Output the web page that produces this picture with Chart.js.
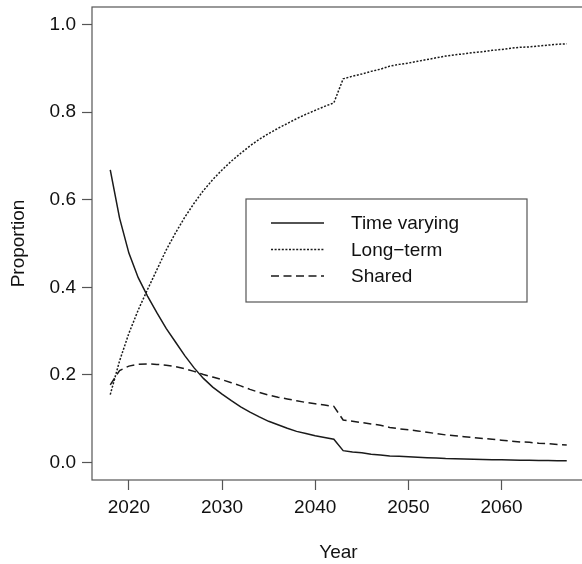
<!DOCTYPE html>
<html>
<head>
<meta charset="utf-8">
<script src="https://cdn.jsdelivr.net/npm/chart.js@4.4.1/dist/chart.umd.min.js"></script>
<style>
  html, body { margin: 0; padding: 0; background: #fff; overflow: hidden; }
  #wrap { width: 590px; height: 564px; }
</style>
</head>
<body>
<div id="wrap"><canvas id="c" width="590" height="564"></canvas></div>
<script>
// ---- data ----
const years = [];
for (let y = 2018; y <= 2067; y++) years.push(y);

const timeVarying = [
  0.668, 0.558, 0.478, 0.422, 0.380, 0.342, 0.306, 0.275, 0.244, 0.216,
  0.192, 0.172, 0.156, 0.141, 0.127, 0.115, 0.104, 0.094, 0.086, 0.078,
  0.071, 0.066, 0.061, 0.057, 0.053, 0.027, 0.024, 0.022, 0.019, 0.017,
  0.015, 0.014, 0.013, 0.012, 0.011, 0.010, 0.009, 0.0085, 0.008, 0.0075,
  0.007, 0.0065, 0.006, 0.0055, 0.005, 0.005, 0.0045, 0.0045, 0.004, 0.004
];
const longTerm = [
  0.155, 0.232, 0.295, 0.348, 0.395, 0.440, 0.485, 0.524, 0.560, 0.592,
  0.621, 0.646, 0.668, 0.688, 0.706, 0.723, 0.738, 0.751, 0.763, 0.774,
  0.785, 0.795, 0.804, 0.813, 0.821, 0.876, 0.882, 0.887, 0.893, 0.898,
  0.905, 0.909, 0.912, 0.916, 0.920, 0.924, 0.928, 0.931, 0.933, 0.936,
  0.938, 0.941, 0.943, 0.946, 0.948, 0.949, 0.951, 0.953, 0.955, 0.956
];
const shared = [
  0.177, 0.210, 0.220, 0.224, 0.225, 0.224, 0.222, 0.219, 0.214, 0.208,
  0.201, 0.195, 0.189, 0.182, 0.175, 0.167, 0.160, 0.154, 0.149, 0.145,
  0.141, 0.137, 0.134, 0.131, 0.128, 0.097, 0.094, 0.091, 0.088, 0.085,
  0.080, 0.077, 0.075, 0.072, 0.069, 0.066, 0.063, 0.061, 0.059, 0.057,
  0.055, 0.053, 0.051, 0.049, 0.047, 0.046, 0.044, 0.043, 0.041, 0.040
];
const seriesLabels = ['Time varying', 'Long\u2212term', 'Shared'];
const xTicks = [2020, 2030, 2040, 2050, 2060];
const yTicks = [0.0, 0.2, 0.4, 0.6, 0.8, 1.0];
const xTitle = 'Year';
const yTitle = 'Proportion';

// ---- styling ----
const FONT = "'Liberation Sans', Arial, Helvetica, sans-serif";
const INK = '#1a1a1a';
const FRAME = '#555';
const dashes = [[], [2, 1.6], [8, 4.5]];

function toXY(vals) { return vals.map((v, i) => ({ x: years[i], y: v })); }

const datasets = [timeVarying, longTerm, shared].map((vals, i) => ({
  label: seriesLabels[i],
  data: toXY(vals),
  borderColor: INK,
  borderWidth: 1.5,
  borderDash: dashes[i],
  pointRadius: 0,
  tension: 0,
  fill: false
}));

const framePlugin = {
  id: 'frame',
  afterDraw(chart) {
    const { ctx, chartArea: a } = chart;
    ctx.save();
    ctx.strokeStyle = FRAME;
    ctx.lineWidth = 1.2;
    ctx.strokeRect(a.left, a.top, a.right - a.left, a.bottom - a.top);
    ctx.restore();
  }
};

const legendPlugin = {
  id: 'boxLegend',
  afterDraw(chart) {
    const { ctx, chartArea: a } = chart;
    const bx = a.left + 154, by = a.top + 192, bw = 281, bh = 103;
    ctx.save();
    ctx.strokeStyle = FRAME;
    ctx.lineWidth = 1.2;
    ctx.strokeRect(bx, by, bw, bh);
    ctx.font = '19px ' + FONT;
    ctx.textBaseline = 'middle';
    ctx.textAlign = 'left';
    chart.data.datasets.forEach((ds, i) => {
      const y = by + 24 + i * 26.5;
      ctx.beginPath();
      ctx.strokeStyle = ds.borderColor;
      ctx.lineWidth = ds.borderWidth;
      ctx.setLineDash(ds.borderDash);
      ctx.moveTo(bx + 25, y);
      ctx.lineTo(bx + 78, y);
      ctx.stroke();
      ctx.setLineDash([]);
      ctx.fillStyle = '#111';
      ctx.fillText(ds.label, bx + 105, y + 1);
    });
    ctx.restore();
  }
};

new Chart(document.getElementById('c'), {
  type: 'line',
  data: { datasets },
  options: {
    responsive: false,
    animation: false,
    devicePixelRatio: 1,
    layout: { padding: { top: 7, right: 5, left: 0, bottom: 0 } },
    plugins: { legend: { display: false }, tooltip: { enabled: false } },
    scales: {
      x: {
        type: 'linear',
        min: 2016.04,
        max: 2068.96,
        afterFit(s) { s.height = 84; s.paddingLeft = 0; s.paddingRight = 0; },
        afterBuildTicks(s) { s.ticks = xTicks.map(v => ({ value: v })); },
        grid: { display: true, drawOnChartArea: false, drawTicks: true, tickLength: 10, tickColor: FRAME, tickWidth: 1.2 },
        border: { display: false },
        ticks: { color: '#111', font: { family: FONT, size: 19 }, padding: 6, maxRotation: 0,
                 callback: v => String(v) },
        title: { display: true, text: xTitle, color: '#111', font: { family: FONT, size: 19 }, padding: { top: 0, bottom: 0 } }
      },
      y: {
        type: 'linear',
        min: -0.04,
        max: 1.04,
        afterFit(s) { s.width = 92; s.paddingTop = 0; s.paddingBottom = 0; },
        afterBuildTicks(s) { s.ticks = yTicks.map(v => ({ value: v })); },
        grid: { display: true, drawOnChartArea: false, drawTicks: true, tickLength: 10, tickColor: FRAME, tickWidth: 1.2 },
        border: { display: false },
        ticks: { color: '#111', font: { family: FONT, size: 19 }, padding: 6,
                 callback: v => Number(v).toFixed(1) },
        title: { display: true, text: yTitle, color: '#111', font: { family: FONT, size: 19 }, padding: { top: 7, bottom: 0 } }
      }
    }
  },
  plugins: [framePlugin, legendPlugin]
});
</script>
</body>
</html>
